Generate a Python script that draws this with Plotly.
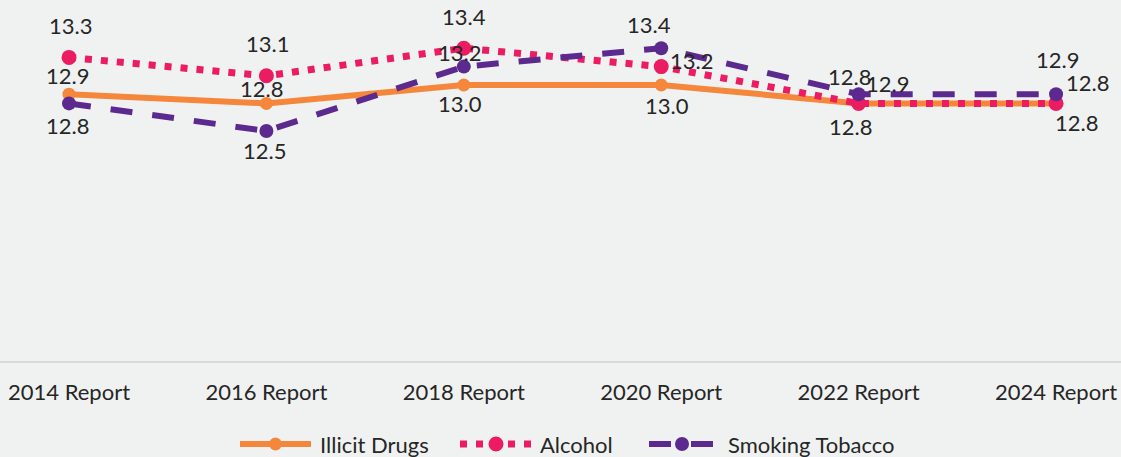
import plotly.graph_objects as go

# Survey editions and mean age of first use for each substance
reports = ["2014 Report", "2016 Report", "2018 Report", "2020 Report", "2022 Report", "2024 Report"]
series_names = ["Illicit Drugs", "Alcohol", "Smoking Tobacco"]
illicit_drugs = [12.9, 12.8, 13.0, 13.0, 12.8, 12.8]
alcohol = [13.3, 13.1, 13.4, 13.2, 12.8, 12.8]
smoking_tobacco = [12.8, 12.5, 13.2, 13.4, 12.9, 12.9]

# Label offsets (pixels) so the value labels don't collide
illicit_offsets = [(-2, 19), (-5, 15), (-4, -18), (6, -20), (-8, -23), (20, -19)]
alcohol_offsets = [(1, 32), (1, 32), (0, 32), (30, 6), (-9, 27), (31, 21)]
tobacco_offsets = [(-2, -22), (-2, -19), (-4, 14), (-12, 24), (29, 11), (1, 35)]

ORANGE = "#F5873D"
PINK = "#EC1C63"
PURPLE = "#5C2A8E"
TEXT = "#262626"
BG = "#F0F2F1"
FONT = "Lato, 'Noto Sans', sans-serif"
FS = 22

W, H = 1121, 457
MB = 96
PLOT_H = H - MB

styles = [
    dict(color=ORANGE, width=6, dash="solid", msize=13),
    dict(color=PINK, width=7, dash="7px,9px", msize=15),
    dict(color=PURPLE, width=6, dash="22px,20px", msize=14),
]
all_values = [illicit_drugs, alcohol, smoking_tobacco]
all_offsets = [illicit_offsets, alcohol_offsets, tobacco_offsets]

fig = go.Figure()

for name, values, st in zip(series_names, all_values, styles):
    fig.add_trace(go.Scatter(
        x=reports, y=values, name=name, mode="lines+markers",
        line=dict(color=st["color"], width=st["width"], dash=st["dash"]),
        marker=dict(color=st["color"], size=st["msize"]),
        showlegend=False,
    ))

annotations = []
for values, offsets in zip(all_values, all_offsets):
    for rep, v, (dx, dy) in zip(reports, values, offsets):
        annotations.append(dict(
            x=rep, y=v, text=f"{v:.1f}", showarrow=False,
            xshift=dx, yshift=dy,
            font=dict(family=FONT, size=FS, color=TEXT),
        ))

# Hand-built legend below the axis: long line glyph, centred marker, label
shapes = []
legend_y = (PLOT_H - 444) / PLOT_H
legend_glyphs = [(240, 311, 318), (460, 532, 538), (649, 715, 726)]
for name, st, (gx0, gx1, tx) in zip(series_names, styles, legend_glyphs):
    shapes.append(dict(
        type="line", xref="paper", yref="paper",
        x0=gx0 / W, x1=gx1 / W, y0=legend_y, y1=legend_y,
        line=dict(color=st["color"], width=st["width"], dash=st["dash"]),
    ))
    cx = (gx0 + gx1) / 2
    r = st["msize"] / 2
    shapes.append(dict(
        type="circle", xref="paper", yref="paper",
        x0=(cx - r) / W, x1=(cx + r) / W,
        y0=legend_y - r / PLOT_H, y1=legend_y + r / PLOT_H,
        fillcolor=st["color"], line=dict(width=0),
    ))
    annotations.append(dict(
        xref="paper", yref="paper", x=tx / W, y=legend_y,
        xanchor="left", yanchor="middle", text=name, showarrow=False,
        font=dict(family=FONT, size=FS, color=TEXT),
    ))

fig.update_layout(
    width=W, height=H,
    margin=dict(l=0, r=0, t=0, b=MB, autoexpand=False),
    paper_bgcolor=BG, plot_bgcolor=BG,
    font=dict(family=FONT, size=FS, color=TEXT),
    showlegend=False,
    annotations=annotations,
    shapes=shapes,
    xaxis=dict(
        type="category", range=[-0.3495, 5.329],
        showgrid=False, zeroline=False,
        showline=True, linecolor="#D9D9D9", linewidth=2,
        ticks="", ticklabelstandoff=11,
        tickfont=dict(family=FONT, size=FS, color=TEXT),
    ),
    yaxis=dict(
        range=[10, 13.924], visible=False, showgrid=False, zeroline=False,
    ),
)

fig.write_html("out.html")
